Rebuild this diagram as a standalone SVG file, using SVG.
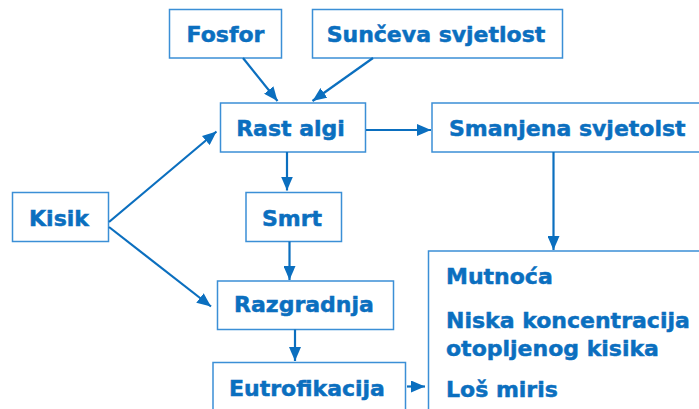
<svg xmlns="http://www.w3.org/2000/svg" width="699" height="409" viewBox="0 0 699 409">
<defs>
<style>
.box{fill:#fff;stroke:#3B8FD6;stroke-width:1.5}
.lbl{font-family:"DejaVu Sans","Verdana",sans-serif;font-weight:bold;font-size:22px;fill:#0B6FBF;stroke:#0B6FBF;stroke-width:0.5}
.c{text-anchor:middle}
.con{stroke:#0B6FBF;stroke-width:2.2;fill:none;marker-end:url(#ah)}
</style>
<marker id="ah" viewBox="0 0 14 12" refX="14" refY="6" markerWidth="14" markerHeight="12" markerUnits="userSpaceOnUse" orient="auto">
<path d="M0,0 L14,6 L0,12 Z" fill="#0B6FBF"/>
</marker>
</defs>
<rect width="699" height="409" fill="#fff"/>
<g id="fosfor"><rect class="box" x="169.5" y="9.5" width="112" height="48.5"/><text class="lbl c" x="225.5" y="42">Fosfor</text></g>
<g id="sunceva"><rect class="box" x="312.5" y="9.5" width="250" height="48.5"/><text class="lbl c" x="436" y="42">Sunčeva svjetlost</text></g>
<g id="rast"><rect class="box" x="220.5" y="103" width="145" height="49"/><text class="lbl c" x="290.5" y="136">Rast algi</text></g>
<g id="smanjena"><rect class="box" x="432" y="103" width="275" height="49"/><text class="lbl" x="449" y="135.5">Smanjena svjetolst</text></g>
<g id="kisik"><rect class="box" x="12.5" y="192.5" width="96" height="49"/><text class="lbl c" x="59" y="226">Kisik</text></g>
<g id="smrt"><rect class="box" x="246" y="192.5" width="95.5" height="49"/><text class="lbl c" x="292" y="226">Smrt</text></g>
<g id="razgradnja"><rect class="box" x="217.5" y="281" width="176" height="48.5"/><text class="lbl c" x="304" y="311.5">Razgradnja</text></g>
<g id="eutrofikacija"><rect class="box" x="213" y="362.5" width="192.5" height="60"/><text class="lbl c" x="307" y="396">Eutrofikacija</text></g>
<g id="posljedice"><rect class="box" x="428.5" y="251" width="280" height="170"/>
<text class="lbl" x="446" y="283.5">Mutnoća</text>
<text class="lbl" x="446" y="327.5">Niska koncentracija</text>
<text class="lbl" x="446" y="355.5">otopljenog kisika</text>
<text class="lbl" x="446" y="397">Loš miris</text>
</g>
<g id="connectors">
<line class="con" x1="243" y1="58" x2="277.5" y2="101"/>
<line class="con" x1="373" y1="58" x2="312.5" y2="101"/>
<line class="con" x1="366" y1="130" x2="431" y2="130"/>
<line class="con" x1="287" y1="152" x2="287" y2="190.5"/>
<line class="con" x1="109" y1="222" x2="216.5" y2="131.5"/>
<line class="con" x1="109" y1="227" x2="211" y2="306.5"/>
<line class="con" x1="289.5" y1="241.5" x2="289.5" y2="280"/>
<line class="con" x1="295" y1="329.5" x2="295" y2="361"/>
<line class="con" x1="553.5" y1="152" x2="553.5" y2="250"/>
<line class="con" x1="407" y1="386.5" x2="425" y2="386.5"/>
</g>
</svg>
